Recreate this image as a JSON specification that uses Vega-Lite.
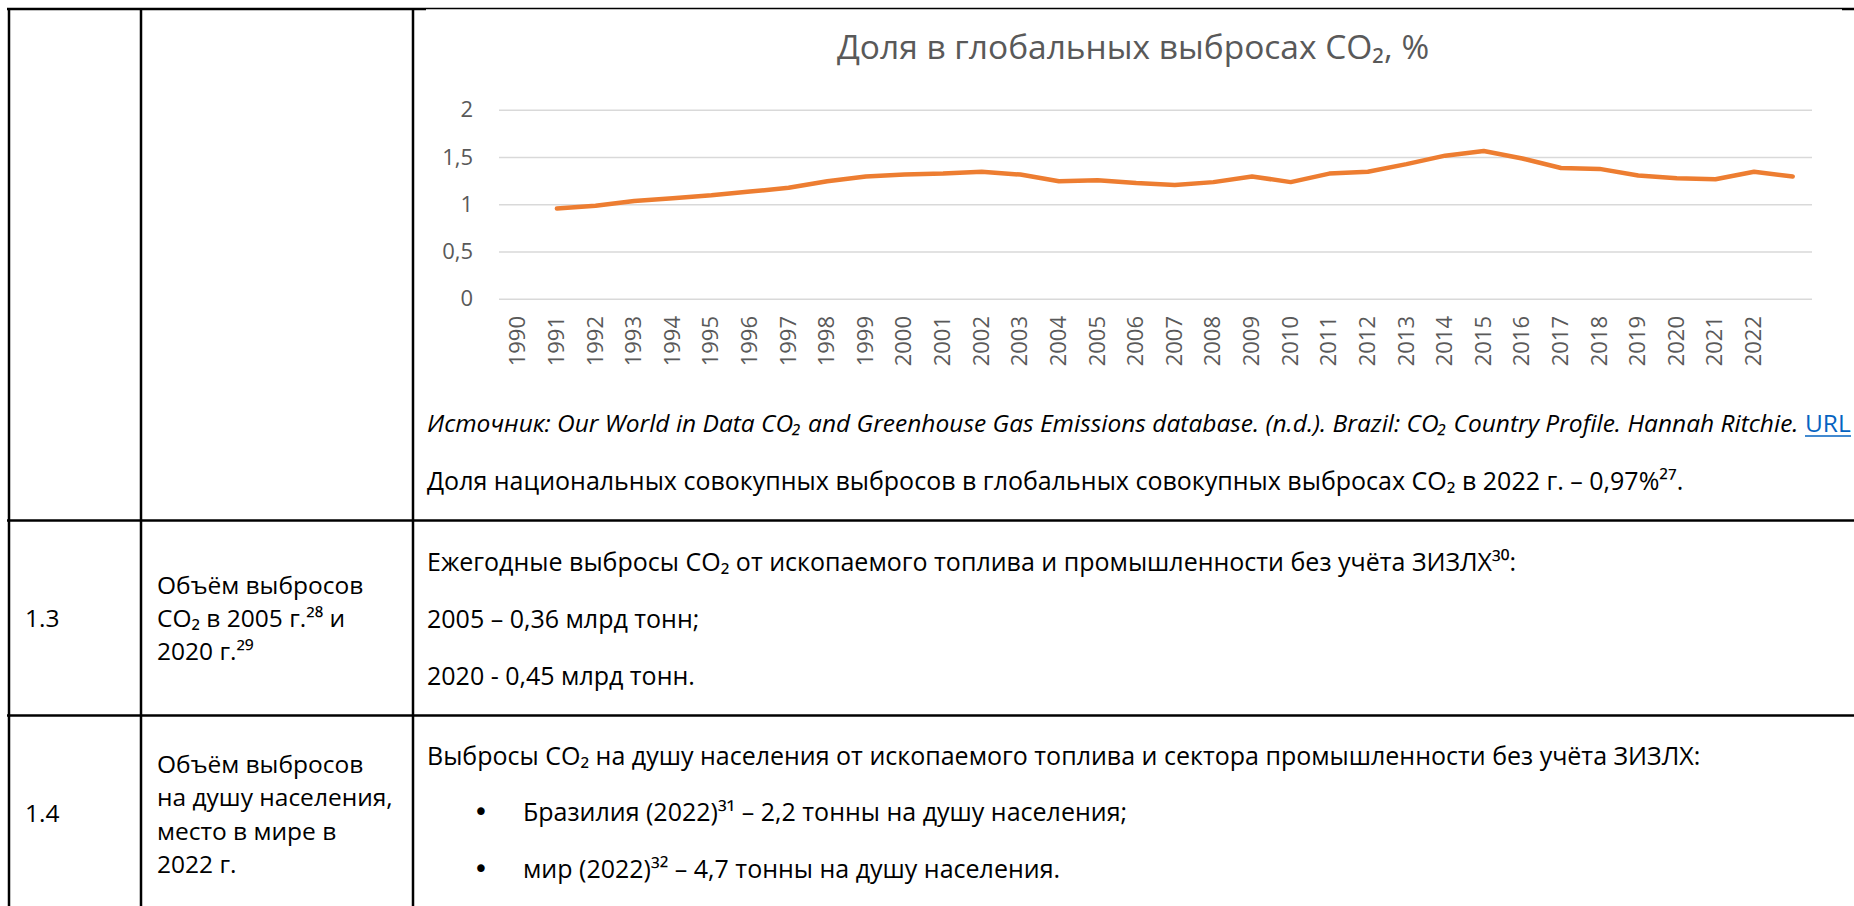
{
  "$schema": "https://vega.github.io/schema/vega-lite/v6.json",
  "width": 1854,
  "height": 906,
  "padding": 0,
  "autosize": {"type": "none"},
  "background": "white",
  "config": {"view": {"stroke": null}, "font": "Open Sans"},
  "datasets": {
    "rulesThick": [
      {"px": 7, "py": 9, "px2": 426, "py2": 9},
      {"px": 1842, "py": 9, "px2": 1854, "py2": 9},
      {"px": 9, "py": 8, "px2": 9, "py2": 906},
      {"px": 141, "py": 8, "px2": 141, "py2": 906},
      {"px": 413, "py": 8, "px2": 413, "py2": 906},
      {"px": 7, "py": 520.5, "px2": 1854, "py2": 520.5},
      {"px": 7, "py": 715.5, "px2": 1854, "py2": 715.5}
    ],
    "rulesThin": [
      {"px": 426, "py": 8.5, "px2": 1842, "py2": 8.5}
    ],
    "linkLine": [
      {"px": 1805, "py": 436, "px2": 1851, "py2": 436}
    ],
    "colLeft": [
      {"px": 25, "py": 620, "t": "1.3"},
      {"px": 25, "py": 815, "t": "1.4"},
      {"px": 157, "py": 587, "t": "Объём выбросов"},
      {"px": 157, "py": 620, "t": "CO₂ в 2005 г.²⁸ и"},
      {"px": 157, "py": 653, "t": "2020 г.²⁹"},
      {"px": 157, "py": 766, "t": "Объём выбросов"},
      {"px": 157, "py": 799, "t": "на душу населения,"},
      {"px": 157, "py": 833, "t": "место в мире в"},
      {"px": 157, "py": 866, "t": "2022 г."}
    ],
    "body": [
      {"px": 427, "py": 482, "t": "Доля национальных совокупных выбросов в глобальных совокупных выбросах CO₂ в 2022 г. – 0,97%²⁷."},
      {"px": 427, "py": 563, "t": "Ежегодные выбросы CO₂ от ископаемого топлива и промышленности без учёта ЗИЗЛХ³⁰:"},
      {"px": 427, "py": 620, "t": "2005 – 0,36 млрд тонн;"},
      {"px": 427, "py": 677, "t": "2020 - 0,45 млрд тонн."},
      {"px": 427, "py": 757, "t": "Выбросы CO₂ на душу населения от ископаемого топлива и сектора промышленности без учёта ЗИЗЛХ:"},
      {"px": 523, "py": 813, "t": "Бразилия (2022)³¹ – 2,2 тонны на душу населения;"},
      {"px": 523, "py": 870, "t": "мир (2022)³² – 4,7 тонны на душу населения."}
    ],
    "bullets": [
      {"px": 481, "py": 813, "t": "•"},
      {"px": 481, "py": 870, "t": "•"}
    ],
    "source": [
      {"px": 427, "py": 425, "t": "Источник: Our World in Data CO₂ and Greenhouse Gas Emissions database. (n.d.). Brazil: CO₂ Country Profile. Hannah Ritchie."}
    ],
    "link": [
      {"px": 1805, "py": 425, "t": "URL"}
    ],
    "title": [
      {"px": 1133, "py": 49, "t": "Доля в глобальных выбросах CO₂, %"}
    ],
    "grid": [
      {"v": 0, "lab": "0"}, {"v": 0.5, "lab": "0,5"}, {"v": 1, "lab": "1"}, {"v": 1.5, "lab": "1,5"}, {"v": 2, "lab": "2"}
    ],
    "years": [
      {"year": 1990}, {"year": 1991}, {"year": 1992}, {"year": 1993}, {"year": 1994}, {"year": 1995},
      {"year": 1996}, {"year": 1997}, {"year": 1998}, {"year": 1999}, {"year": 2000}, {"year": 2001},
      {"year": 2002}, {"year": 2003}, {"year": 2004}, {"year": 2005}, {"year": 2006}, {"year": 2007},
      {"year": 2008}, {"year": 2009}, {"year": 2010}, {"year": 2011}, {"year": 2012}, {"year": 2013},
      {"year": 2014}, {"year": 2015}, {"year": 2016}, {"year": 2017}, {"year": 2018}, {"year": 2019},
      {"year": 2020}, {"year": 2021}, {"year": 2022}
    ],
    "share": [
      {"year": 1991, "share": 0.96},
      {"year": 1992, "share": 0.99},
      {"year": 1993, "share": 1.04},
      {"year": 1994, "share": 1.07},
      {"year": 1995, "share": 1.10},
      {"year": 1996, "share": 1.14},
      {"year": 1997, "share": 1.18},
      {"year": 1998, "share": 1.25},
      {"year": 1999, "share": 1.30},
      {"year": 2000, "share": 1.32},
      {"year": 2001, "share": 1.33},
      {"year": 2002, "share": 1.35},
      {"year": 2003, "share": 1.32},
      {"year": 2004, "share": 1.25},
      {"year": 2005, "share": 1.26},
      {"year": 2006, "share": 1.23},
      {"year": 2007, "share": 1.21},
      {"year": 2008, "share": 1.24},
      {"year": 2009, "share": 1.30},
      {"year": 2010, "share": 1.24},
      {"year": 2011, "share": 1.33},
      {"year": 2012, "share": 1.35},
      {"year": 2013, "share": 1.43},
      {"year": 2014, "share": 1.52},
      {"year": 2015, "share": 1.57},
      {"year": 2016, "share": 1.49},
      {"year": 2017, "share": 1.39},
      {"year": 2018, "share": 1.38},
      {"year": 2019, "share": 1.31},
      {"year": 2020, "share": 1.28},
      {"year": 2021, "share": 1.27},
      {"year": 2022, "share": 1.35},
      {"year": 2023, "share": 1.30}
    ]
  },
  "layer": [
    {
      "layer": [
        {
          "data": {"name": "rulesThick"},
          "mark": {"type": "rule", "color": "#000000", "strokeWidth": 2.5},
          "encoding": {
            "x": {"field": "px", "type": "quantitative", "scale": {"domain": [0, 1854], "range": [0, 1854], "nice": false, "zero": false}, "axis": null},
            "x2": {"field": "px2"},
            "y": {"field": "py", "type": "quantitative", "scale": {"domain": [0, 906], "range": [0, 906], "nice": false, "zero": false}, "axis": null},
            "y2": {"field": "py2"}
          }
        },
        {
          "data": {"name": "rulesThin"},
          "mark": {"type": "rule", "color": "#000000", "strokeWidth": 1.3},
          "encoding": {
            "x": {"field": "px", "type": "quantitative", "scale": {"domain": [0, 1854], "range": [0, 1854], "nice": false, "zero": false}, "axis": null},
            "x2": {"field": "px2"},
            "y": {"field": "py", "type": "quantitative", "scale": {"domain": [0, 906], "range": [0, 906], "nice": false, "zero": false}, "axis": null},
            "y2": {"field": "py2"}
          }
        },
        {
          "data": {"name": "linkLine"},
          "mark": {"type": "rule", "color": "#0563C1", "strokeWidth": 1.5},
          "encoding": {
            "x": {"field": "px", "type": "quantitative", "scale": {"domain": [0, 1854], "range": [0, 1854], "nice": false, "zero": false}, "axis": null},
            "x2": {"field": "px2"},
            "y": {"field": "py", "type": "quantitative", "scale": {"domain": [0, 906], "range": [0, 906], "nice": false, "zero": false}, "axis": null},
            "y2": {"field": "py2"}
          }
        },
        {
          "data": {"name": "colLeft"},
          "mark": {"type": "text", "align": "left", "baseline": "middle", "font": "Open Sans", "fontSize": 24.5, "color": "#000000"},
          "encoding": {
            "x": {"field": "px", "type": "quantitative", "scale": {"domain": [0, 1854], "range": [0, 1854], "nice": false, "zero": false}, "axis": null},
            "y": {"field": "py", "type": "quantitative", "scale": {"domain": [0, 906], "range": [0, 906], "nice": false, "zero": false}, "axis": null},
            "text": {"field": "t"}
          }
        },
        {
          "data": {"name": "body"},
          "mark": {"type": "text", "align": "left", "baseline": "middle", "font": "Open Sans", "fontSize": 25, "color": "#000000"},
          "encoding": {
            "x": {"field": "px", "type": "quantitative", "scale": {"domain": [0, 1854], "range": [0, 1854], "nice": false, "zero": false}, "axis": null},
            "y": {"field": "py", "type": "quantitative", "scale": {"domain": [0, 906], "range": [0, 906], "nice": false, "zero": false}, "axis": null},
            "text": {"field": "t"}
          }
        },
        {
          "data": {"name": "bullets"},
          "mark": {"type": "text", "align": "center", "baseline": "middle", "font": "DejaVu Sans", "fontSize": 26, "color": "#000000"},
          "encoding": {
            "x": {"field": "px", "type": "quantitative", "scale": {"domain": [0, 1854], "range": [0, 1854], "nice": false, "zero": false}, "axis": null},
            "y": {"field": "py", "type": "quantitative", "scale": {"domain": [0, 906], "range": [0, 906], "nice": false, "zero": false}, "axis": null},
            "text": {"field": "t"}
          }
        },
        {
          "data": {"name": "source"},
          "mark": {"type": "text", "align": "left", "baseline": "middle", "font": "Open Sans", "fontStyle": "italic", "fontSize": 24.5, "color": "#000000"},
          "encoding": {
            "x": {"field": "px", "type": "quantitative", "scale": {"domain": [0, 1854], "range": [0, 1854], "nice": false, "zero": false}, "axis": null},
            "y": {"field": "py", "type": "quantitative", "scale": {"domain": [0, 906], "range": [0, 906], "nice": false, "zero": false}, "axis": null},
            "text": {"field": "t"}
          }
        },
        {
          "data": {"name": "link"},
          "mark": {"type": "text", "align": "left", "baseline": "middle", "font": "Open Sans", "fontSize": 24.5, "color": "#0563C1"},
          "encoding": {
            "x": {"field": "px", "type": "quantitative", "scale": {"domain": [0, 1854], "range": [0, 1854], "nice": false, "zero": false}, "axis": null},
            "y": {"field": "py", "type": "quantitative", "scale": {"domain": [0, 906], "range": [0, 906], "nice": false, "zero": false}, "axis": null},
            "text": {"field": "t"}
          }
        },
        {
          "data": {"name": "title"},
          "mark": {"type": "text", "align": "center", "baseline": "middle", "font": "Open Sans", "fontSize": 33.5, "color": "#595959"},
          "encoding": {
            "x": {"field": "px", "type": "quantitative", "scale": {"domain": [0, 1854], "range": [0, 1854], "nice": false, "zero": false}, "axis": null},
            "y": {"field": "py", "type": "quantitative", "scale": {"domain": [0, 906], "range": [0, 906], "nice": false, "zero": false}, "axis": null},
            "text": {"field": "t"}
          }
        }
      ]
    },
    {
      "layer": [
        {
          "data": {"name": "grid"},
          "mark": {"type": "rule", "color": "#D9D9D9", "strokeWidth": 1.5},
          "encoding": {
            "x": {"datum": 1989.5, "type": "quantitative", "scale": {"domain": [1989.5, 2023.5], "range": [499, 1812], "nice": false, "zero": false}, "axis": null},
            "x2": {"datum": 2023.5},
            "y": {"field": "v", "type": "quantitative", "scale": {"domain": [0, 2], "range": [299.3, 110.3], "nice": false, "zero": false}, "axis": null}
          }
        },
        {
          "data": {"name": "grid"},
          "mark": {"type": "text", "align": "right", "baseline": "middle", "font": "Open Sans", "fontSize": 22, "color": "#595959"},
          "encoding": {
            "x": {"datum": 1988.83, "type": "quantitative", "scale": {"domain": [1989.5, 2023.5], "range": [499, 1812], "nice": false, "zero": false}, "axis": null},
            "y": {"field": "v", "type": "quantitative", "scale": {"domain": [0, 2], "range": [299.3, 110.3], "nice": false, "zero": false}, "axis": null},
            "text": {"field": "lab"}
          }
        },
        {
          "data": {"name": "years"},
          "mark": {"type": "text", "align": "right", "baseline": "middle", "angle": 270, "font": "Open Sans", "fontSize": 22, "color": "#595959"},
          "encoding": {
            "x": {"field": "year", "type": "quantitative", "scale": {"domain": [1989.5, 2023.5], "range": [499, 1812], "nice": false, "zero": false}, "axis": null},
            "y": {"datum": -0.177, "type": "quantitative", "scale": {"domain": [0, 2], "range": [299.3, 110.3], "nice": false, "zero": false}, "axis": null},
            "text": {"field": "year", "type": "quantitative", "format": "d"}
          }
        },
        {
          "data": {"name": "share"},
          "mark": {"type": "line", "color": "#ED7D31", "strokeWidth": 4.5, "strokeCap": "round", "strokeJoin": "round"},
          "encoding": {
            "x": {"field": "year", "type": "quantitative", "scale": {"domain": [1989.5, 2023.5], "range": [499, 1812], "nice": false, "zero": false}, "axis": null},
            "y": {"field": "share", "type": "quantitative", "scale": {"domain": [0, 2], "range": [299.3, 110.3], "nice": false, "zero": false}, "axis": null}
          }
        }
      ]
    }
  ],
  "resolve": {
    "scale": {"x": "independent", "y": "independent"}
  }
}
